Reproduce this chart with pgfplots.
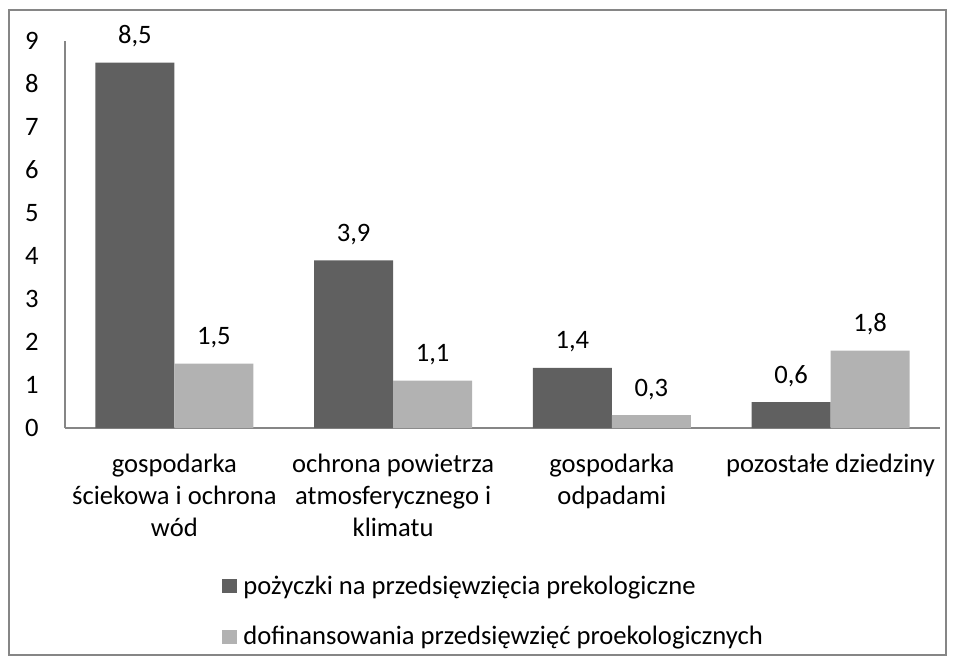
\documentclass[border=0pt]{standalone}
\usepackage{fontspec}
\setmainfont{Carlito}
\usepackage{pgfplots}
\pgfplotsset{compat=1.18}
\definecolor{darkbar}{HTML}{606060}
\definecolor{lightbar}{HTML}{B2B2B2}
\definecolor{axisgray}{HTML}{868686}
\newcommand{\lbl}{\fontsize{13.3}{16}\selectfont}
\begin{document}
\begin{tikzpicture}
% page size and outer frame (1px = 0.5pt)
\path (0pt,0pt) rectangle (478.5pt,332pt);
\draw[axisgray, line width=0.7pt] (4.5pt,4.5pt) rectangle (473pt,327pt);
\begin{axis}[
    at={(32.5pt,118pt)}, anchor=south west,
    scale only axis, width=437.5pt, height=193.5pt,
    xmin=-0.5, xmax=3.5, ymin=0, ymax=9,
    ybar=0pt, bar width=39.5pt,
    axis x line=bottom, axis y line=left,
    axis line style={axisgray, line width=0.7pt, -},
    major tick length=0pt,
    xtick={0,1,2,3},
    xticklabels={{gospodarka\\ściekowa i ochrona\\wód},
                 {ochrona powietrza\\atmosferycznego i\\klimatu},
                 {gospodarka\\odpadami},
                 {pozostałe dziedziny}},
    xticklabel style={font=\lbl, align=center, anchor=north, inner sep=0pt, yshift=-13pt},
    ytick={0,1,...,9},
    yticklabel style={font=\lbl, anchor=east, inner sep=0pt, xshift=-13pt},
    /pgf/number format/assume math mode=true,
    nodes near coords={\pgfmathprintnumber[fixed,fixed zerofill,precision=1,use comma,assume math mode=true]{\pgfplotspointmeta}},
    every node near coord/.append style={font=\lbl, text=black, anchor=base, inner sep=0pt, yshift=9.5pt},
    legend cell align=left,
    legend style={at={(0.1794,-0.373)}, anchor=north west, draw=none, fill=none,
                  font=\lbl, row sep=11.5pt, inner sep=0pt,
                  nodes={inner sep=1.5pt}},
    legend image code/.code={\fill[#1] (0pt,-3.5pt) rectangle (7.5pt,3.5pt); \path (9pt,0pt);},
]
\addplot[fill=darkbar, draw=none] coordinates {(0,8.5) (1,3.9) (2,1.4) (3,0.6)};
\addlegendentry{pożyczki na przedsięwzięcia prekologiczne}
\addplot[fill=lightbar, draw=none] coordinates {(0,1.5) (1,1.1) (2,0.3) (3,1.8)};
\addlegendentry{dofinansowania przedsięwzięć proekologicznych}
\end{axis}
\end{tikzpicture}
\end{document}
